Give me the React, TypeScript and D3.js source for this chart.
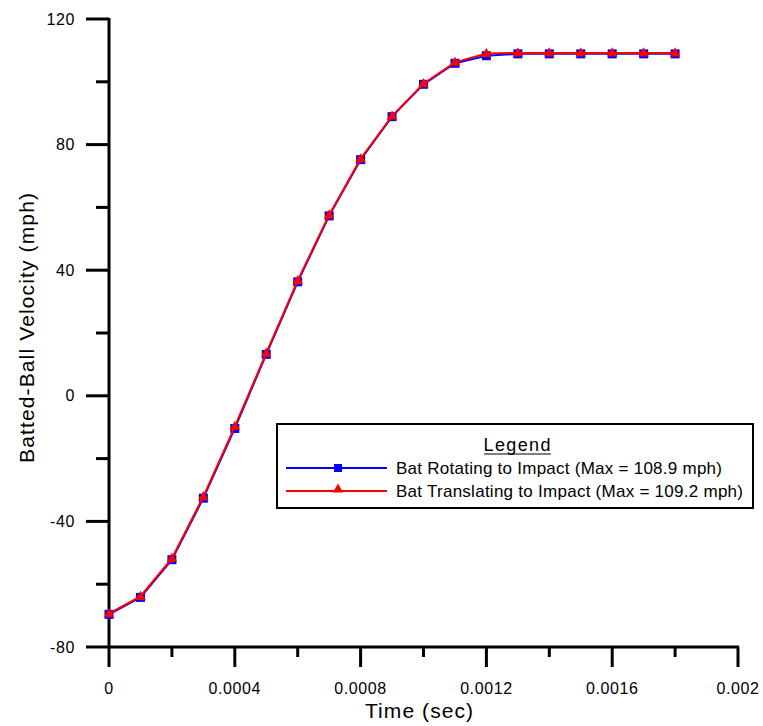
import React from "react";
import * as d3 from "d3";

const times = [0, 0.0001, 0.0002, 0.0003, 0.0004, 0.0005, 0.0006, 0.0007, 0.0008, 0.0009, 0.001, 0.0011, 0.0012, 0.0013, 0.0014, 0.0015, 0.0016, 0.0017, 0.0018];
const rotating = [-69.6, -64.2, -52.2, -32.6, -10.4, 13.2, 36.3, 57.3, 75.2, 88.9, 99.2, 105.9, 108.3, 108.9, 108.9, 108.9, 108.9, 108.9, 108.9];
const translating = [-69.4, -63.9, -51.8, -32.1, -9.8, 13.6, 36.7, 57.6, 75.5, 89.1, 99.4, 106.2, 109.0, 109.2, 109.2, 109.2, 109.2, 109.2, 109.2];
const xTicks = [0, 0.0004, 0.0008, 0.0012, 0.0016, 0.002];
const xTickLabels = ["0", "0.0004", "0.0008", "0.0012", "0.0016", "0.002"];
const xMinor = [0.0002, 0.0006, 0.001, 0.0014, 0.0018];
const yTicks = [-80, -40, 0, 40, 80, 120];
const yMinor = [-60, -20, 20, 60, 100];
const legendLabels = ["Bat Rotating to Impact (Max = 108.9 mph)", "Bat Translating to Impact (Max = 109.2 mph)"];

const FONT = "Arial, 'Liberation Sans', sans-serif";

export default function App() {
  const x = d3.scaleLinear().domain([0, 0.002]).range([109, 738]);
  const y = d3.scaleLinear().domain([-80, 120]).range([647, 19]);
  const line = d3
    .line<[number, number]>()
    .x((d) => x(d[0]))
    .y((d) => y(d[1]));
  const blueData: [number, number][] = times.map((t, i) => [t, rotating[i]]);
  const redData: [number, number][] = times.map((t, i) => [t, translating[i]]);
  const tri = d3.symbol().type(d3.symbolTriangle).size(48)();

  return (
    <svg
      width={763}
      height={726}
      style={{ position: "absolute", left: 0, top: 0, fontFamily: FONT }}
    >
      <rect x={0} y={0} width={763} height={726} fill="white" />
      {/* axes */}
      <line x1={109} x2={109} y1={y(120) - 1} y2={y(-80) + 1} stroke="black" strokeWidth={3} />
      <line x1={108} x2={x(0.002) + 1} y1={647} y2={647} stroke="black" strokeWidth={3} />
      {xTicks.map((t, i) => (
        <g key={"xt" + i}>
          <line x1={x(t)} x2={x(t)} y1={647} y2={667} stroke="black" strokeWidth={3} />
          <text x={x(t)} y={694} fontSize={16} textAnchor="middle" letterSpacing={0.6}>
            {xTickLabels[i]}
          </text>
        </g>
      ))}
      {xMinor.map((t, i) => (
        <line key={"xm" + i} x1={x(t)} x2={x(t)} y1={647} y2={657} stroke="black" strokeWidth={3} />
      ))}
      {yTicks.map((v, i) => (
        <g key={"yt" + i}>
          <line x1={86} x2={109} y1={y(v)} y2={y(v)} stroke="black" strokeWidth={3} />
          <text x={75} y={y(v) + 5.5} fontSize={16} textAnchor="end" letterSpacing={0.6}>
            {String(v)}
          </text>
        </g>
      ))}
      {yMinor.map((v, i) => (
        <line key={"ym" + i} x1={96} x2={109} y1={y(v)} y2={y(v)} stroke="black" strokeWidth={3} />
      ))}
      {/* axis titles */}
      <text x={419} y={718} fontSize={21} textAnchor="middle" textLength={108} lengthAdjust="spacing">
        Time (sec)
      </text>
      <text
        transform="translate(34,328) rotate(-90)"
        fontSize={21}
        textAnchor="middle"
        textLength={270}
        lengthAdjust="spacing"
      >
        Batted-Ball Velocity (mph)
      </text>
      {/* series */}
      <path d={line(blueData) || ""} fill="none" stroke="#0000ff" strokeWidth={2} />
      {blueData.map((d, i) => (
        <rect key={"b" + i} x={x(d[0]) - 4.5} y={y(d[1]) - 4.5} width={9} height={9} fill="#0000ff" />
      ))}
      <path d={line(redData) || ""} fill="none" stroke="#ff0000" strokeWidth={2} />
      {redData.map((d, i) => (
        <path key={"r" + i} d={tri || ""} transform={`translate(${x(d[0])},${y(d[1]) + 0.5})`} fill="#ff0000" />
      ))}
      {/* legend */}
      <rect x={277} y={424} width={476} height={84} fill="white" stroke="black" strokeWidth={2} />
      <text x={517} y={451} fontSize={18} textAnchor="middle" textLength={67} lengthAdjust="spacing">
        Legend
      </text>
      <line x1={484} x2={551} y1={454} y2={454} stroke="black" strokeWidth={1.2} />
      <line x1={286} x2={387} y1={468} y2={468} stroke="#0000ff" strokeWidth={2} />
      <rect x={334} y={464} width={8} height={8} fill="#0000ff" />
      <text x={396} y={474} fontSize={17} textLength={326} lengthAdjust="spacing">
        {legendLabels[0]}
      </text>
      <line x1={286} x2={387} y1={491} y2={491} stroke="#ff0000" strokeWidth={2} />
      <path d={tri || ""} transform="translate(338,489.5)" fill="#ff0000" />
      <text x={396} y={497} fontSize={17} textLength={347} lengthAdjust="spacing">
        {legendLabels[1]}
      </text>
    </svg>
  );
}
